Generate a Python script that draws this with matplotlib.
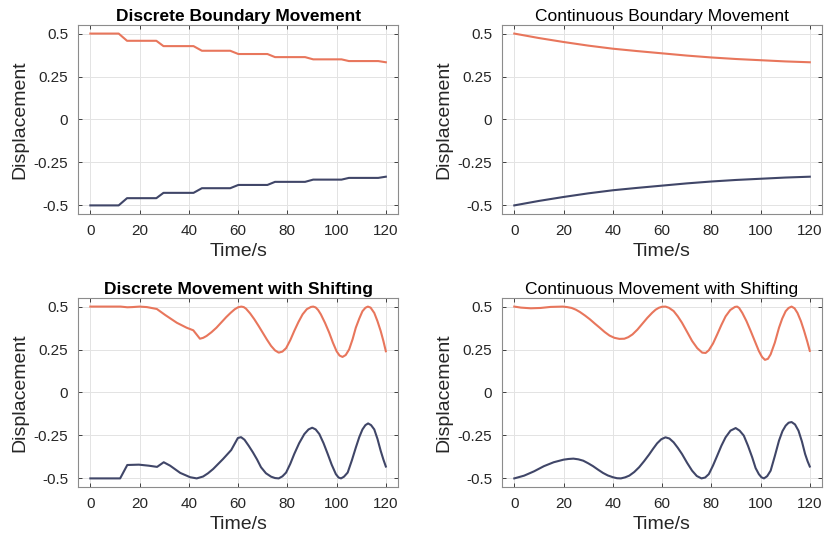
import numpy as np
import matplotlib
matplotlib.use("Agg")
import matplotlib.pyplot as plt

plt.rcParams['font.family'] = ['Liberation Sans', 'DejaVu Sans']

ORANGE = '#E8765C'
NAVY = '#404668'

# --- Discrete boundary movement (step points) ---
t_disc = [0, 11.5, 14.9, 26.8, 29.7, 41.9, 45.3, 56.8, 60.1, 71.9, 75.0, 87.2, 90.5, 102.0, 105.0, 116.9, 120]
up_disc = [0.5, 0.5, 0.458, 0.458, 0.427, 0.427, 0.400, 0.400, 0.381, 0.381, 0.363, 0.363, 0.350, 0.350, 0.340, 0.340, 0.333]
lo_disc = [-0.5, -0.5, -0.458, -0.458, -0.427, -0.427, -0.400, -0.400, -0.381, -0.381, -0.363, -0.363, -0.350, -0.350, -0.340, -0.340, -0.333]

# --- Continuous boundary movement ---
t_cont = [0, 10, 20, 30, 40, 50, 60, 70, 80, 90, 100, 110, 120]
up_cont = [0.5, 0.474, 0.451, 0.430, 0.412, 0.398, 0.385, 0.372, 0.361, 0.352, 0.345, 0.338, 0.333]
lo_cont = [-0.5, -0.474, -0.451, -0.430, -0.412, -0.398, -0.385, -0.372, -0.361, -0.352, -0.345, -0.338, -0.333]

# --- Discrete movement with shifting ---
t_ds_up = [0, 12.3, 15, 17, 20, 23, 27, 30.4, 35.1, 39.1, 41.8, 44.5, 45.8, 47.2, 49.2, 51.2, 53.2, 55.2, 57, 58.6, 60, 61.3,
           62.3, 63.2, 64.9, 66.6, 68.3, 70, 71.7, 73.4, 75, 76.5, 78, 79.5, 81.2, 82.8, 84.5, 86.2, 87.9, 89.6,
           90.5, 91.5, 92.5, 93.6, 95.3, 97, 98.5, 100, 101.2, 102.4, 103.7, 105.1, 106.5, 107.8, 109.2, 110.5,
           111.7, 112.7, 113.8, 115.3, 116.6, 117.9, 119, 120]
up_ds = [0.5, 0.5, 0.496, 0.497, 0.5, 0.497, 0.486, 0.451, 0.406, 0.377, 0.362, 0.313, 0.318, 0.329, 0.351, 0.377, 0.408, 0.439, 0.464, 0.484, 0.496, 0.5,
         0.497, 0.488, 0.46, 0.426, 0.388, 0.348, 0.308, 0.271, 0.245, 0.232, 0.238, 0.258, 0.305, 0.358, 0.410, 0.455, 0.485, 0.498,
         0.5, 0.495, 0.48, 0.455, 0.405, 0.348, 0.29, 0.24, 0.215, 0.207, 0.218, 0.251, 0.31, 0.377, 0.43, 0.473,
         0.493, 0.5, 0.494, 0.463, 0.415, 0.358, 0.3, 0.24]
t_ds_lo = [0, 12.1, 15, 19.7, 23.7, 27.1, 29.8, 32.4, 36.5, 40.5, 43.2, 45.8, 47.8, 49.9, 53.9, 57.2, 59.9, 61.2,
           62.6, 64.3, 66, 67.7, 69.3, 71.3, 73.4, 75, 76.5, 78, 79.5, 81.2, 82.8, 84.8, 86.9, 88.6, 90.1, 91.5,
           93, 94.7, 96.4, 98, 99.7, 100.8, 101.8, 103, 104.5, 106.2, 107.8, 109.2, 110.5, 111.7, 112.8, 114,
           115.3, 116.6, 117.9, 119, 120]
lo_ds = [-0.5, -0.5, -0.422, -0.42, -0.426, -0.433, -0.406, -0.426, -0.468, -0.493, -0.5, -0.489, -0.47, -0.445, -0.387, -0.335, -0.265, -0.26,
         -0.275, -0.31, -0.348, -0.39, -0.435, -0.47, -0.49, -0.498, -0.5, -0.488, -0.466, -0.415, -0.358, -0.295, -0.242, -0.215, -0.205, -0.215,
         -0.242, -0.295, -0.358, -0.42, -0.475, -0.495, -0.5, -0.49, -0.466, -0.395, -0.321, -0.26, -0.215, -0.19, -0.18, -0.19,
         -0.215, -0.27, -0.339, -0.39, -0.431]

# --- Continuous movement with shifting ---
t_cs_up = [0, 2.7, 6.7, 10.7, 14.7, 19.7, 21.5, 23.3, 25, 26.7, 28.7, 30.7, 32.7, 34.7, 36.7, 38.7, 40.7, 42.7, 44.7,
           46.3, 48, 50, 52, 54, 56, 57.4, 58.7, 60, 61.4, 62.8, 64.7, 66.4, 68.1, 70.2, 72.2, 74.3, 76.3, 77.7,
           79, 80.7, 82.4, 84.1, 85.8, 87.7, 89.6, 90.5, 91.3, 92.6, 94.3, 96, 97.7, 99.3, 100.6, 101.8, 103,
           104.1, 105.8, 107.5, 108.8, 110.2, 111.4, 112.6, 113.8, 115, 116.4, 117.7, 119, 120]
up_cs = [0.5, 0.494, 0.49, 0.492, 0.498, 0.5, 0.497, 0.492, 0.482, 0.468, 0.448, 0.426, 0.401, 0.377, 0.352, 0.331, 0.318, 0.312, 0.313,
         0.322, 0.338, 0.366, 0.4, 0.434, 0.464, 0.482, 0.493, 0.499, 0.5, 0.493, 0.474, 0.443, 0.406, 0.352, 0.300, 0.258, 0.232, 0.230,
         0.246, 0.285, 0.338, 0.393, 0.443, 0.480, 0.498, 0.5, 0.492, 0.463, 0.415, 0.358, 0.298, 0.242, 0.207, 0.19, 0.196,
         0.222, 0.29, 0.377, 0.43, 0.473, 0.492, 0.5, 0.49, 0.463, 0.415, 0.358, 0.295, 0.242]
t_cs_lo = [0, 4, 8, 12, 16, 20, 22, 24, 26, 28, 30, 32, 34, 36, 38, 40, 41.7, 43.3, 45, 46.7, 48.7, 50.7, 52.7, 54.7,
           56.4, 58, 59.7, 61.4, 63, 64.7, 66.4, 68.1, 70.2, 72.2, 74.1, 76, 77.5, 79, 80.7, 82.4, 84.1, 85.8,
           87.8, 89.9, 91.5, 93.2, 94.9, 96.6, 98, 99.3, 100.4, 101.4, 102.7, 104.1, 105.8, 107.5, 108.9, 110.2,
           111.4, 112.6, 114, 115.4, 116.8, 118.1, 119.1, 120]
lo_cs = [-0.5, -0.484, -0.459, -0.429, -0.406, -0.391, -0.387, -0.385, -0.389, -0.397, -0.412, -0.429, -0.449, -0.468, -0.483, -0.493, -0.499, -0.5, -0.494, -0.484, -0.463, -0.435, -0.400, -0.362,
         -0.327, -0.296, -0.272, -0.261, -0.268, -0.290, -0.322, -0.358, -0.41, -0.455, -0.486, -0.5, -0.495, -0.475, -0.425, -0.368, -0.31, -0.261,
         -0.222, -0.207, -0.222, -0.251, -0.31, -0.377, -0.44, -0.475, -0.494, -0.5, -0.487, -0.455, -0.37, -0.280, -0.225, -0.193,
         -0.176, -0.172, -0.186, -0.222, -0.285, -0.358, -0.4, -0.431]

x_ticks = [0, 20, 40, 60, 80, 100, 120]
y_ticks = [-0.5, -0.25, 0, 0.25, 0.5]
y_ticklabels = ['-0.5', '-0.25', '0', '0.25', '0.5']

fig = plt.figure(figsize=(8.24, 5.42), dpi=100)

# positions [left, bottom, width, height] in figure fraction
pos = {
    'tl': [0.0947, 0.6052, 0.3885, 0.3487],
    'tr': [0.6092, 0.6052, 0.3885, 0.3487],
    'bl': [0.0947, 0.1015, 0.3885, 0.3487],
    'br': [0.6092, 0.1015, 0.3885, 0.3487],
}

panels = [
    ('tl', "Discrete Boundary Movement", 'bold', t_disc, up_disc, t_disc, lo_disc),
    ('tr', "Continuous Boundary Movement", 'normal', t_cont, up_cont, t_cont, lo_cont),
    ('bl', "Discrete Movement with Shifting", 'bold', t_ds_up, up_ds, t_ds_lo, lo_ds),
    ('br', "Continuous Movement with Shifting", 'normal', t_cs_up, up_cs, t_cs_lo, lo_cs),
]

for key, title, weight, tu, yu, tl, yl in panels:
    ax = fig.add_axes(pos[key])
    ax.plot(tu, yu, color=ORANGE, lw=1.5)
    ax.plot(tl, yl, color=NAVY, lw=1.5)
    ax.set_xlim(-5, 125)
    ax.set_ylim(-0.55, 0.55)
    ax.set_xticks(x_ticks)
    ax.set_yticks(y_ticks)
    ax.set_yticklabels(y_ticklabels)
    ax.grid(True, color='#e3e3e3', lw=0.7)
    ax.set_axisbelow(True)
    ax.tick_params(direction='in', top=True, right=True, length=3, width=0.6,
                   colors='#262626', labelsize=11, pad=7)
    for s in ax.spines.values():
        s.set_color('#8c8c8c')
        s.set_linewidth(0.8)
    ax.set_xlabel('Time/s', fontsize=14, color='#262626', labelpad=4)
    ax.set_ylabel('Displacement', fontsize=14, color='#262626', labelpad=4)
    ax.set_title(title, fontsize=12.5, fontweight=weight, color='black', pad=3)

fig.savefig('out.png', dpi=100)
